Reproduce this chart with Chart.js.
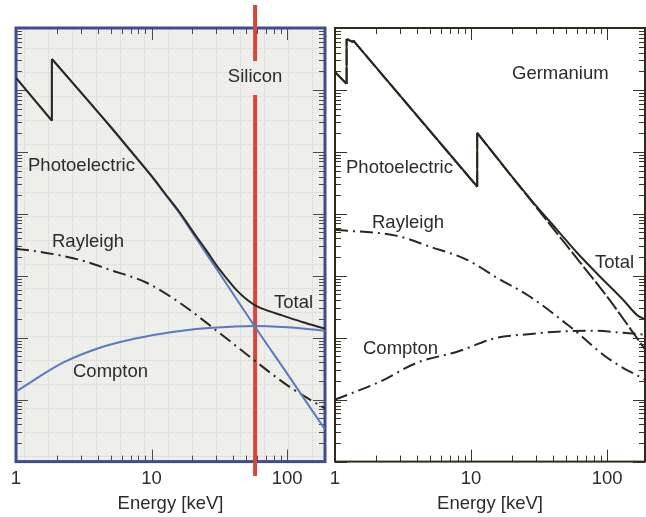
<!DOCTYPE html>
<html>
<head>
<meta charset="utf-8">
<script src="https://cdn.jsdelivr.net/npm/chart.js@4.4.0/dist/chart.umd.min.js"></script>
<style>
  html, body { margin: 0; padding: 0; background: #fff; }
  body { width: 646px; height: 517px; position: relative; overflow: hidden; }
  canvas { position: absolute; top: 0; }
  #siChart { left: 0; }
  #geChart { left: 318px; }
</style>
</head>
<body>
<canvas id="siChart" width="331" height="517"></canvas>
<canvas id="geChart" width="333" height="517"></canvas>
<script>
// Energy in keV, attenuation values (log-log)
const xTickLabels = [1, 10, 100];
const energyMin = 1, energyMax = 190;
const muMin = 1e-3, muMax = 1e4;
const markerEnergy = 58;

// Silicon
const siPhotoE = [1, 1.839, 1.839, 4.91, 7, 10.2, 12.4, 16.1, 21.4, 33.3, 57.2, 103.5, 190];
const siPhotoV = [1563, 316, 3162, 262, 103, 38.1, 21.5, 10.1, 3.95, 0.93, 0.156, 0.0235, 0.0033];
const siTotalE = [1, 1.839, 1.839, 4.91, 7, 10.2, 12.4, 16.1, 21.4, 25.4, 30.1, 35.6, 41.5, 48.3, 57.2, 70.1, 91.9, 128.9, 190];
const siTotalV = [1570, 320, 3170, 264, 104.5, 38.8, 22.1, 10.6, 4.3, 2.55, 1.47, 0.92, 0.615, 0.445, 0.34, 0.279, 0.229, 0.179, 0.14];
const siRayE = [1, 1.5, 2.95, 4.91, 9.19, 16.1, 31.6, 60.2, 103.5, 190];
const siRayV = [2.72, 2.44, 1.81, 1.25, 0.771, 0.367, 0.12, 0.0395, 0.0162, 0.0072];
const siComptonE = [1, 2.22, 4.15, 7.25, 11.45, 16.1, 22.5, 39.4, 57.2, 100, 190];
const siComptonV = [0.0135, 0.0395, 0.069, 0.095, 0.115, 0.128, 0.14, 0.151, 0.155, 0.147, 0.13];

// Germanium
const gePhotoE = [1, 1.217, 1.217, 1.36, 1.36, 11.1, 11.1, 20, 30, 42.9, 61.2, 100, 190];
const gePhotoV = [1950, 1250, 6650, 5900, 6300, 27.3, 202, 39.5, 13, 4.83, 1.81, 0.46, 0.065];
const geTotalE = [1, 1.217, 1.217, 1.36, 1.36, 11.1, 11.1, 20, 30, 42.9, 60.2, 88.9, 131, 169, 190];
const geTotalV = [1955, 1255, 6660, 5910, 6310, 27.6, 203, 40, 13.5, 5.52, 2.35, 0.964, 0.41, 0.225, 0.2];
const geRayE = [1, 2.86, 5.0, 9.35, 15.5, 27.2, 53.5, 105, 190];
const geRayV = [5.52, 4.41, 2.94, 1.81, 0.93, 0.458, 0.15, 0.0442, 0.021];
const geComptonE = [1, 2.14, 4.01, 7.89, 15.5, 24.1, 42.9, 75, 131, 190];
const geComptonV = [0.01, 0.0195, 0.0395, 0.0594, 0.1, 0.112, 0.125, 0.13, 0.12, 0.112];

const FONT = '"Liberation Sans", Arial, Helvetica, sans-serif';
const INK = '#2b2820';
const BLUE = '#5b79c2';
const dashDot = [13, 5, 2, 5];

// split a curve at absorption edges (repeated energy) so each piece can be smoothed on its own
function pieces(es, vs) {
    const out = [];
    let cur = [{ x: es[0], y: vs[0] }];
    for (let i = 1; i < es.length; i++) {
        const p = { x: es[i], y: vs[i] };
        if (es[i] === es[i - 1]) {
            out.push(cur);
            out.push([cur[cur.length - 1], p]);
            cur = [p];
        } else {
            cur.push(p);
        }
    }
    out.push(cur);
    return out.filter(seg => seg.length > 1);
}

function curve(label, es, vs, color, order, extra = {}) {
    return pieces(es, vs).map(seg => Object.assign({
        label: label,
        data: seg,
        borderColor: color,
        borderWidth: 2,
        pointRadius: 0,
        cubicInterpolationMode: 'monotone',
        fill: false,
        order: order
    }, extra));
}

// light grey dotted paper used behind the silicon panel
function paperPattern(ctx) {
    const c = document.createElement('canvas');
    c.width = 24; c.height = 24;
    const p = c.getContext('2d');
    p.fillStyle = '#ebebe7';
    p.fillRect(0, 0, 24, 24);
    p.fillStyle = '#f6f6f3';
    for (let y = 0; y < 24; y += 2) {
        for (let x = (y / 2) % 2; x < 24; x += 2) p.fillRect(x, y, 1, 1);
    }
    p.fillStyle = '#d6d6d1';
    for (let i = 0; i < 24; i += 2) {
        p.fillRect(i, 0, 1, 1);
        p.fillRect(0, i, 1, 1);
    }
    return ctx.createPattern(c, 'repeat');
}

function logTickValues(scale) {
    const out = [];
    const lo = Math.floor(Math.log10(scale.min)), hi = Math.ceil(Math.log10(scale.max));
    for (let e = lo; e <= hi; e++) {
        for (let m = 1; m <= 9; m++) {
            const v = m * Math.pow(10, e);
            if (v >= scale.min * 0.999 && v <= scale.max * 1.001) out.push({ v: v, major: m === 1 });
        }
    }
    return out;
}

function makeDecor(cfg) {
    return {
        id: 'panelDecor',
        beforeDatasetsDraw(chart) {
            const ctx = chart.ctx, a = chart.chartArea;
            const w = a.right - a.left, h = a.bottom - a.top;
            ctx.save();
            if (cfg.paper) {
                ctx.fillStyle = paperPattern(ctx);
                ctx.fillRect(a.left, a.top, w, h);
            }
            // inward ticks on all four sides
            ctx.strokeStyle = cfg.tickColor;
            ctx.lineWidth = 1;
            ctx.beginPath();
            logTickValues(chart.scales.x).forEach(t => {
                const px = Math.round(chart.scales.x.getPixelForValue(t.v)) + 0.5;
                const len = t.major ? 12 : 6;
                ctx.moveTo(px, a.bottom); ctx.lineTo(px, a.bottom - len);
                ctx.moveTo(px, a.top); ctx.lineTo(px, a.top + len);
            });
            logTickValues(chart.scales.y).forEach(t => {
                const py = Math.round(chart.scales.y.getPixelForValue(t.v)) + 0.5;
                const len = t.major ? 12 : 6;
                ctx.moveTo(a.left, py); ctx.lineTo(a.left + len, py);
                ctx.moveTo(a.right, py); ctx.lineTo(a.right - len, py);
            });
            ctx.stroke();
            // frame
            ctx.strokeStyle = cfg.frameColor;
            ctx.lineWidth = cfg.frameWidth;
            ctx.strokeRect(a.left, a.top, w, h);
            // marker energy line, broken around the element name
            if (cfg.marker) {
                const mx = chart.scales.x.getPixelForValue(cfg.marker.energy);
                ctx.strokeStyle = '#d6463b';
                ctx.lineWidth = 4;
                ctx.beginPath();
                ctx.moveTo(mx, 5); ctx.lineTo(mx, 61);
                ctx.moveTo(mx, 95); ctx.lineTo(mx, 476);
                ctx.stroke();
            }
            ctx.restore();
        },
        afterDraw(chart) {
            const ctx = chart.ctx;
            ctx.save();
            ctx.fillStyle = '#2e2c28';
            ctx.font = '18.5px ' + FONT;
            ctx.textBaseline = 'alphabetic';
            cfg.labels.forEach(l => {
                let x = l.x;
                ctx.textAlign = 'left';
                if (l.atMarker) {
                    x = chart.scales.x.getPixelForValue(cfg.marker.energy);
                    ctx.textAlign = 'center';
                }
                ctx.fillText(l.text, x, l.y);
            });
            ctx.restore();
        }
    };
}

function makePanel(canvasId, datasets, pad, cfg) {
    return new Chart(document.getElementById(canvasId), {
        type: 'line',
        data: { datasets: datasets },
        options: {
            responsive: false,
            devicePixelRatio: 1,
            animation: false,
            events: [],
            layout: { padding: pad },
            plugins: { legend: { display: false }, tooltip: { enabled: false } },
            scales: {
                x: {
                    type: 'logarithmic',
                    min: energyMin,
                    max: energyMax,
                    border: { display: false },
                    grid: { display: false, drawTicks: false },
                    ticks: {
                        autoSkip: false,
                        maxRotation: 0,
                        padding: 6,
                        color: '#2e2c28',
                        font: { size: 18.5, family: FONT },
                        callback: (v) => xTickLabels.includes(v) ? String(v) : ''
                    },
                    title: {
                        display: true,
                        text: 'Energy [keV]',
                        color: '#2e2c28',
                        font: { size: 18.5, family: FONT },
                        padding: { top: -3, bottom: 0 }
                    }
                },
                y: {
                    type: 'logarithmic',
                    min: muMin,
                    max: muMax,
                    display: false
                }
            }
        },
        plugins: [makeDecor(cfg)]
    });
}

makePanel('siChart', [].concat(
    curve('Total', siTotalE, siTotalV, INK, 0),
    curve('Photoelectric', siPhotoE, siPhotoV, BLUE, 1),
    curve('Compton', siComptonE, siComptonV, BLUE, 2),
    curve('Rayleigh', siRayE, siRayV, INK, 3, { borderDash: dashDot })
), { left: 16, right: 0, top: 28, bottom: 2 }, {
    paper: true,
    tickColor: '#4a4a48',
    frameColor: '#3f4d8e',
    frameWidth: 3,
    marker: { energy: markerEnergy },
    labels: [
        { text: 'Silicon', y: 82, atMarker: true },
        { text: 'Photoelectric', x: 28, y: 171 },
        { text: 'Rayleigh', x: 52, y: 247 },
        { text: 'Total', x: 274, y: 308 },
        { text: 'Compton', x: 73, y: 377 }
    ]
});

makePanel('geChart', [].concat(
    curve('Total', geTotalE, geTotalV, INK, 0),
    curve('Photoelectric', gePhotoE, gePhotoV, INK, 1, { borderDash: [16, 3] }),
    curve('Rayleigh', geRayE, geRayV, INK, 2, { borderDash: dashDot }),
    curve('Compton', geComptonE, geComptonV, INK, 3, { borderDash: dashDot })
), { left: 17, right: 0, top: 28, bottom: 2 }, {
    paper: false,
    tickColor: '#3b3426',
    frameColor: '#2f2a1e',
    frameWidth: 2,
    labels: [
        { text: 'Germanium', x: 194, y: 79 },
        { text: 'Photoelectric', x: 28, y: 173 },
        { text: 'Rayleigh', x: 54, y: 228 },
        { text: 'Total', x: 277, y: 268 },
        { text: 'Compton', x: 45, y: 354 }
    ]
});
</script>
</body>
</html>
